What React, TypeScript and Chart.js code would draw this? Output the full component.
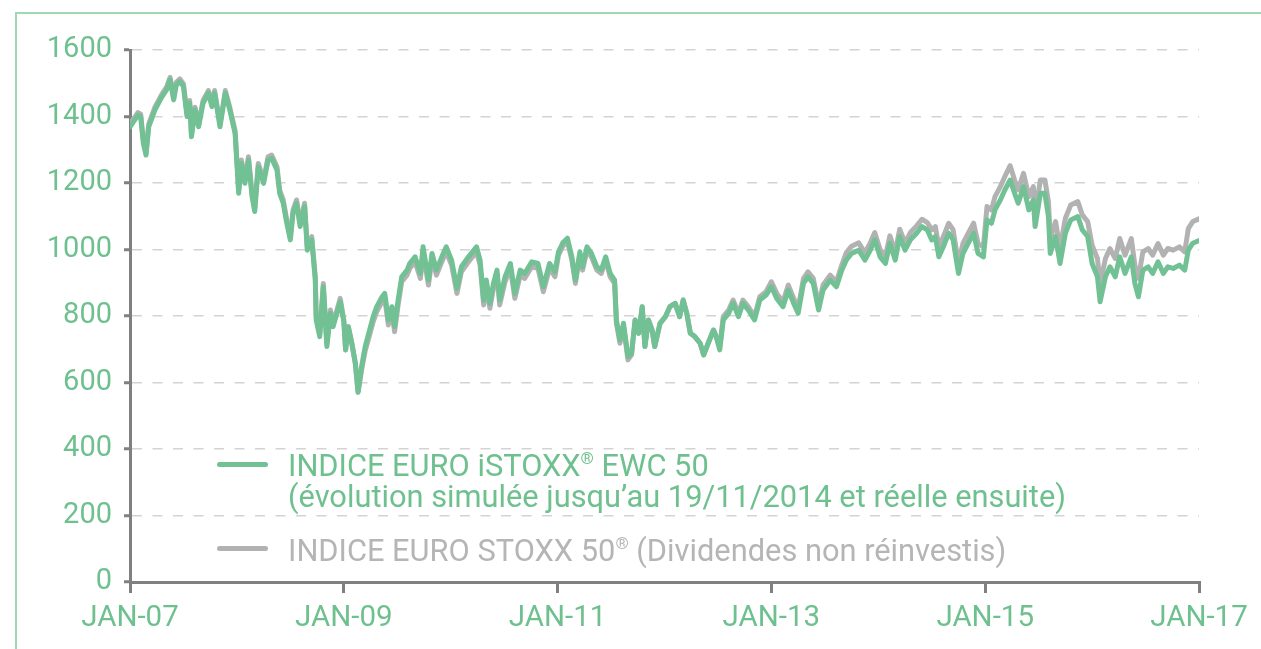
import React, { useEffect, useRef } from "react";
import { Chart, registerables } from "chart.js";

Chart.register(...registerables);

// Months elapsed since January 2007
const months = [
  0, 0.9, 1.2, 1.5, 1.8, 2.1, 2.8, 3.6, 4.1, 4.5, 4.9, 5.2, 5.6, 6.0, 6.4, 6.7, 6.9, 7.3, 7.7, 8.2,
  8.8, 9.2, 9.5, 10.1, 10.7, 11.2, 11.8, 12.2, 12.5, 12.9, 13.3, 13.7, 14.0, 14.4, 15.0, 15.5, 15.9, 16.5, 16.8, 17.2,
  17.6, 18.0, 18.3, 18.7, 19.1, 19.6, 19.9, 20.4, 20.8, 20.9, 21.3, 21.7, 22.1, 22.5, 22.8, 23.6, 24.0, 24.2, 24.5, 24.9,
  25.3, 25.6, 26.0, 26.4, 26.9, 27.3, 27.7, 28.3, 28.6, 29.0, 29.4, 29.7, 30.1, 30.5, 31.1, 31.4, 32.0, 32.6, 32.9, 33.5,
  33.9, 34.4, 35.0, 35.5, 36.1, 36.7, 37.2, 38.0, 38.9, 39.3, 39.7, 40.0, 40.4, 40.8, 41.2, 41.5, 42.1, 42.7, 43.2, 43.8,
  44.3, 45.1, 45.8, 46.4, 47.1, 47.7, 48.1, 48.6, 49.1, 49.6, 50.0, 50.5, 50.8, 51.3, 51.8, 52.4, 52.9, 53.4, 53.9, 54.4,
  54.6, 55.0, 55.4, 55.9, 56.3, 56.7, 57.1, 57.5, 57.8, 58.2, 58.6, 58.9, 59.5, 60.1, 60.6, 61.2, 61.7, 62.1, 62.5, 62.9,
  63.4, 64.0, 64.4, 64.9, 65.5, 65.8, 66.2, 66.6, 67.2, 67.7, 68.3, 68.8, 69.4, 70.1, 70.7, 71.4, 72.0, 72.6, 73.3, 73.9,
  74.5, 75.0, 75.6, 76.1, 76.7, 77.3, 77.8, 78.6, 79.3, 79.9, 80.4, 81.0, 81.8, 82.5, 83.1, 83.6, 84.2, 84.8, 85.3, 85.9,
  86.4, 87.0, 87.6, 88.3, 88.9, 89.5, 90.0, 90.4, 90.8, 91.3, 91.9, 92.4, 93.0, 93.5, 94.1, 94.7, 95.2, 95.8, 96.2, 96.7,
  97.1, 97.7, 98.2, 98.8, 99.3, 99.7, 100.3, 100.9, 101.4, 101.6, 102.2, 102.7, 103.1, 103.3, 103.9, 104.4, 105.0, 105.6, 106.4, 106.9,
  107.5, 108.0, 108.6, 108.9, 109.5, 110.0, 110.6, 111.1, 111.7, 112.4, 112.8, 113.2, 113.7, 114.3, 114.8, 115.4, 116.0, 116.5, 117.1, 117.8,
  118.4, 118.8, 119.3, 120.0,
];

// INDICE EURO iSTOXX EWC 50
const ewc = [
  1369, 1404, 1399, 1319, 1284, 1369, 1420, 1460, 1480, 1510, 1450, 1495, 1505, 1490, 1400, 1440, 1339, 1420, 1369, 1440,
  1470, 1430, 1470, 1369, 1470, 1420, 1349, 1169, 1259, 1199, 1269, 1159, 1114, 1249, 1199, 1269, 1274, 1239, 1169, 1139,
  1079, 1029, 1109, 1139, 1069, 1129, 998, 1029, 908, 788, 738, 888, 708, 808, 768, 843, 783, 698, 768, 718,
  658, 572, 648, 708, 758, 798, 828, 858, 868, 788, 828, 768, 848, 918, 938, 958, 978, 928, 1008, 908,
  988, 938, 978, 1008, 968, 883, 948, 978, 1008, 968, 848, 908, 838, 898, 938, 848, 918, 958, 868, 938,
  928, 963, 958, 888, 958, 933, 993, 1021, 1034, 978, 908, 993, 948, 1008, 988, 948, 938, 978, 928, 908,
  788, 728, 778, 678, 688, 788, 748, 828, 708, 788, 758, 708, 778, 798, 828, 838, 798, 848, 808, 748,
  738, 718, 683, 718, 758, 738, 698, 788, 808, 838, 798, 838, 818, 788, 848, 863, 888, 853, 828, 878,
  838, 808, 898, 918, 898, 818, 878, 908, 888, 938, 968, 988, 998, 968, 998, 1029, 978, 958, 1019, 968,
  1039, 998, 1029, 1049, 1069, 1059, 1029, 1039, 978, 1008, 1049, 1029, 928, 988, 1019, 1049, 988, 978, 1089, 1079,
  1119, 1149, 1179, 1209, 1169, 1139, 1189, 1119, 1149, 1069, 1169, 1169, 1099, 988, 1039, 958, 1049, 1089, 1099, 1059,
  1039, 958, 918, 843, 918, 948, 918, 978, 928, 978, 898, 858, 938, 948, 928, 963, 928, 948, 943, 953,
  938, 998, 1019, 1027,
];

// INDICE EURO STOXX 50 (dividendes non réinvestis)
const stoxx = [
  1377, 1412, 1407, 1327, 1292, 1377, 1428, 1468, 1488, 1518, 1458, 1503, 1513, 1498, 1408, 1448, 1347, 1428, 1377, 1448,
  1478, 1438, 1478, 1377, 1478, 1428, 1357, 1179, 1269, 1209, 1279, 1169, 1124, 1259, 1209, 1279, 1284, 1249, 1179, 1149,
  1089, 1039, 1119, 1149, 1079, 1139, 1008, 1039, 918, 798, 748, 898, 718, 818, 778, 853, 788, 698, 768, 718,
  655, 570, 638, 695, 743, 783, 813, 843, 853, 773, 813, 753, 833, 903, 923, 943, 963, 913, 993, 893,
  973, 923, 963, 993, 953, 868, 933, 963, 993, 953, 833, 893, 823, 883, 923, 833, 903, 943, 853, 923,
  913, 948, 943, 873, 943, 918, 983, 1011, 1024, 968, 898, 983, 938, 998, 978, 938, 928, 968, 918, 898,
  778, 718, 768, 668, 683, 788, 748, 828, 708, 788, 758, 708, 778, 798, 828, 838, 798, 848, 808, 748,
  738, 718, 683, 718, 758, 738, 708, 798, 818, 848, 808, 848, 828, 798, 858, 873, 903, 868, 843, 893,
  853, 823, 913, 933, 913, 833, 893, 923, 903, 953, 990, 1010, 1020, 990, 1020, 1051, 1000, 980, 1041, 990,
  1061, 1020, 1051, 1071, 1091, 1081, 1059, 1069, 1008, 1038, 1079, 1059, 958, 1018, 1049, 1079, 1018, 1008, 1129, 1119,
  1159, 1189, 1219, 1252, 1209, 1179, 1229, 1159, 1189, 1109, 1209, 1209, 1144, 1033, 1084, 1003, 1094, 1134, 1144, 1104,
  1084, 1013, 973, 898, 973, 1003, 973, 1033, 983, 1033, 953, 913, 993, 1003, 983, 1018, 983, 1003, 998, 1008,
  993, 1063, 1084, 1092,
];

const xTickLabels = ["JAN-07", "JAN-09", "JAN-11", "JAN-13", "JAN-15", "JAN-17"];

const GREEN = "#71c194";
const GREEN_TEXT = "#6fc08f";
const GRAY = "#b2b2b2";
const GRAY_TEXT = "#b5b5b5";
const AXIS = "#808080";
const GRID = "#d3d3d3";
const FONT = "Roboto";

export default function App() {
  const ref = useRef<HTMLCanvasElement>(null);

  useEffect(() => {
    if (!ref.current) return;
    const chart = new Chart(ref.current, {
      type: "line",
      data: {
        datasets: [
          {
            label: "INDICE EURO iSTOXX EWC 50",
            data: months.map((m, i) => ({ x: m, y: ewc[i] })),
            borderColor: GREEN,
            borderWidth: 5,
            pointRadius: 0,
            tension: 0,
            borderJoinStyle: "round",
            borderCapStyle: "round",
          },
          {
            label: "INDICE EURO STOXX 50",
            data: months.map((m, i) => ({ x: m, y: stoxx[i] })),
            borderColor: GRAY,
            borderWidth: 5,
            pointRadius: 0,
            tension: 0,
            borderJoinStyle: "round",
            borderCapStyle: "round",
          },
        ],
      },
      options: {
        responsive: false,
        animation: false,
        layout: { padding: { top: 50, right: 62, left: 0, bottom: 0 } },
        plugins: { legend: { display: false }, tooltip: { enabled: false } },
        scales: {
          x: {
            type: "linear",
            min: 0,
            max: 120,
            ticks: {
              stepSize: 24,
              autoSkip: false,
              maxRotation: 0,
              color: GREEN_TEXT,
              font: { family: FONT, size: 29.5 },
              padding: 8,
              callback: (v: any) => xTickLabels[Math.round(Number(v) / 24)] ?? "",
            },
            grid: {
              drawOnChartArea: false,
              drawTicks: true,
              tickLength: 11,
              tickColor: AXIS,
              tickWidth: 3,
              color: AXIS,
              lineWidth: 3,
            },
            border: { display: true, color: AXIS, width: 3 },
            afterFit: (s: any) => {
              s.height = 67;
            },
          },
          y: {
            min: 0,
            max: 1600,
            ticks: {
              stepSize: 200,
              color: GREEN_TEXT,
              font: { family: FONT, size: 29 },
              padding: 12,
              callback: (v: any) => String(v),
            },
            grid: {
              color: GRID,
              lineWidth: 1.5,
              drawTicks: true,
              tickLength: 6,
              tickColor: AXIS,
              tickWidth: 3,
              tickBorderDash: [],
            },
            border: { display: true, color: AXIS, width: 3, dash: [10, 10.5] },
            afterFit: (s: any) => {
              s.width = 130;
            },
          },
        },
      },
    });
    return () => chart.destroy();
  }, []);

  const textBase: React.CSSProperties = {
    position: "absolute",
    fontFamily: FONT,
    fontSize: 30.8,
    lineHeight: "31px",
    whiteSpace: "nowrap",
  };
  const sup: React.CSSProperties = { fontSize: "0.55em", verticalAlign: "0.7em", lineHeight: 0 };

  return (
    <div style={{ position: "absolute", left: 0, top: 0, width: 1261, height: 649, overflow: "hidden", background: "#fff" }}>
      <div
        style={{
          position: "absolute",
          left: 15,
          top: 12,
          right: -5,
          bottom: -5,
          borderTop: "2px solid #9fd9b4",
          borderLeft: "2px solid #9fd9b4",
        }}
      />
      <canvas ref={ref} width={1261} height={649} style={{ position: "absolute", left: 0, top: 0 }} />
      <div style={{ position: "absolute", left: 217, top: 462, width: 51, height: 5, borderRadius: 3, background: GREEN }} />
      <div style={{ ...textBase, left: 288, top: 450, color: GREEN_TEXT }}>
        INDICE EURO iSTOXX<span style={sup}>®</span> EWC 50
        <br />
        (évolution simulée jusqu’au 19/11/2014 et réelle ensuite)
      </div>
      <div style={{ position: "absolute", left: 217, top: 546, width: 51, height: 5, borderRadius: 3, background: GRAY }} />
      <div style={{ ...textBase, left: 288, top: 535, color: GRAY_TEXT }}>
        INDICE EURO STOXX 50<span style={sup}>®</span> (Dividendes non réinvestis)
      </div>
    </div>
  );
}
